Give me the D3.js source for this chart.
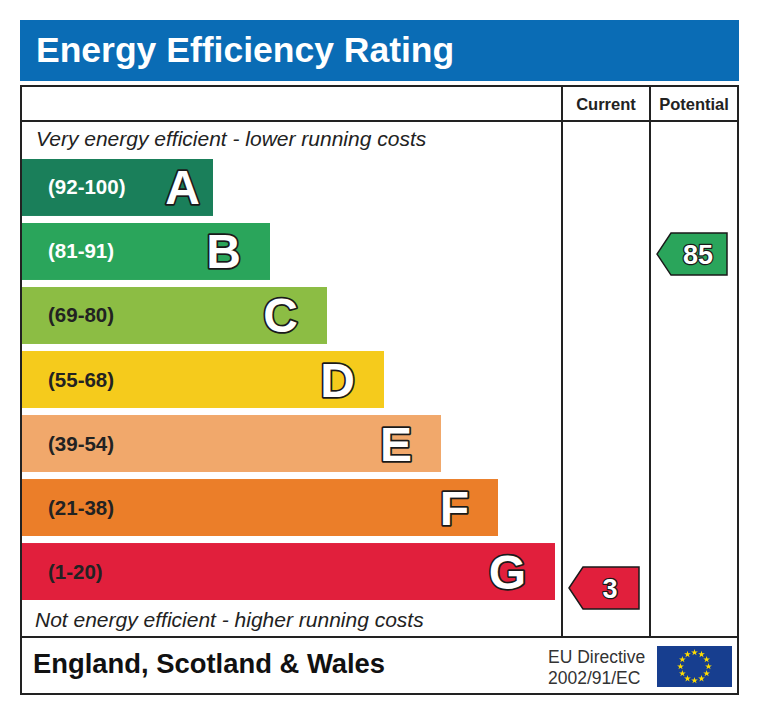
<!DOCTYPE html>
<html>
<head>
<meta charset="utf-8">
<script src="https://cdn.jsdelivr.net/npm/d3@7"></script>
<style>
  body { margin: 0; background: #fff; }
  svg { display: block; }
  text { font-family: "Liberation Sans", Arial, sans-serif; }
</style>
</head>
<body>
<svg id="chart"></svg>
<script>
// rating bands, top (best) to bottom (worst)
const bandLetters = ['A', 'B', 'C', 'D', 'E', 'F', 'G'];
const bandRanges = ['(92-100)', '(81-91)', '(69-80)', '(55-68)', '(39-54)', '(21-38)', '(1-20)'];
const bandMin = [92, 81, 69, 55, 39, 21, 1];
const bandMax = [100, 91, 80, 68, 54, 38, 20];
const bandColors = ['#1a7f5a', '#2aa55b', '#8cbd44', '#f5cb1c', '#f1a86b', '#eb7e29', '#e11f3c'];
const bandTextColors = ['#fff', '#fff', '#222', '#222', '#222', '#222', '#222'];

const columnLabels = ['Current', 'Potential'];
const ratings = [3, 85];

const title = 'Energy Efficiency Rating';
const topNote = 'Very energy efficient - lower running costs';
const bottomNote = 'Not energy efficient - higher running costs';
const footerRegion = 'England, Scotland & Wales';
const footerDirective = ['EU Directive', '2002/91/EC'];

const width = 760;
const height = 715;

const box = { left: 21, right: 738, top: 86, bottom: 694 };
const headerRowBottom = 121;
const footerTop = 637;
const colX = [562, 650, 738];

const svg = d3.select('#chart')
  .attr('width', width)
  .attr('height', height);

svg.append('rect')
  .attr('width', width)
  .attr('height', height)
  .attr('fill', '#fff');

// title banner
svg.append('rect')
  .attr('x', 20)
  .attr('y', 20)
  .attr('width', 719)
  .attr('height', 61)
  .attr('fill', '#0a6cb5');

svg.append('text')
  .attr('x', 36)
  .attr('y', 62)
  .attr('fill', '#fff')
  .attr('font-size', 35.5)
  .attr('font-weight', 'bold')
  .text(title);

// band scales
const y = d3.scaleBand()
  .domain(bandLetters)
  .range([159, 600])
  .paddingInner(0.11)
  .paddingOuter(0);

const barEnd = d3.scaleLinear()
  .domain([0, bandLetters.length - 1])
  .range([213, 555]);

const bands = bandLetters.map((letter, i) => ({
  letter,
  range: bandRanges[i],
  min: bandMin[i],
  max: bandMax[i],
  color: bandColors[i],
  textColor: bandTextColors[i],
  end: barEnd(i)
}));

const barsG = svg.append('g').attr('id', 'bars');

barsG.selectAll('rect')
  .data(bands)
  .join('rect')
  .attr('x', box.left + 1)
  .attr('y', d => y(d.letter))
  .attr('width', d => d.end - box.left - 1)
  .attr('height', y.bandwidth())
  .attr('fill', d => d.color);

barsG.selectAll('text.range')
  .data(bands)
  .join('text')
  .attr('class', 'range')
  .attr('x', 48)
  .attr('y', d => y(d.letter) + y.bandwidth() / 2 + 7)
  .attr('fill', d => d.textColor)
  .attr('font-size', 20.5)
  .attr('font-weight', 'bold')
  .text(d => d.range);

barsG.selectAll('text.letter')
  .data(bands)
  .join('text')
  .attr('class', 'letter')
  .attr('x', d => Math.max(d.end - 29, 200))
  .attr('y', d => y(d.letter) + y.bandwidth() / 2 + 17)
  .attr('text-anchor', 'end')
  .attr('fill', '#fff')
  .attr('stroke', '#1a1a1a')
  .attr('stroke-width', 3.5)
  .attr('paint-order', 'stroke')
  .attr('stroke-linejoin', 'round')
  .attr('font-size', 48)
  .attr('font-weight', 'bold')
  .text(d => d.letter);

// notes
svg.append('text')
  .attr('x', 36)
  .attr('y', 146)
  .attr('fill', '#222')
  .attr('font-size', 21)
  .attr('font-style', 'italic')
  .text(topNote);

svg.append('text')
  .attr('x', 35)
  .attr('y', 627)
  .attr('fill', '#222')
  .attr('font-size', 21)
  .attr('font-style', 'italic')
  .text(bottomNote);

// rating arrows
const arrowH = 42;
const arrowTip = 14;

const ratingY = v => {
  const b = bands.find(d => v >= d.min && v <= d.max);
  const top = y(b.letter);
  const s = d3.scaleLinear()
    .domain([b.max, b.min - 1])
    .range([top, top + y.bandwidth()]);
  return Math.min(s(v), top + y.bandwidth() - 12);
};

const arrows = ratings.map((v, i) => {
  const b = bands.find(d => v >= d.min && v <= d.max);
  return {
    value: v,
    color: b.color,
    left: colX[i] + 7,
    right: colX[i + 1] - 11,
    cy: ratingY(v)
  };
});

const line = d3.line();

const arrowG = svg.append('g').attr('id', 'arrows');

arrowG.selectAll('path')
  .data(arrows)
  .join('path')
  .attr('d', d => line([
    [d.left, d.cy],
    [d.left + arrowTip, d.cy - arrowH / 2],
    [d.right, d.cy - arrowH / 2],
    [d.right, d.cy + arrowH / 2],
    [d.left + arrowTip, d.cy + arrowH / 2]
  ]) + 'Z')
  .attr('fill', d => d.color)
  .attr('stroke', '#1a1a1a')
  .attr('stroke-width', 1.5);

arrowG.selectAll('text')
  .data(arrows)
  .join('text')
  .attr('x', d => (d.left + arrowTip + d.right) / 2 - 1)
  .attr('y', d => d.cy + 10)
  .attr('text-anchor', 'middle')
  .attr('fill', '#fff')
  .attr('stroke', '#1a1a1a')
  .attr('stroke-width', 2.5)
  .attr('paint-order', 'stroke')
  .attr('stroke-linejoin', 'round')
  .attr('font-size', 27)
  .attr('font-weight', 'bold')
  .text(d => d.value);

// frame and grid lines
const gridG = svg.append('g')
  .attr('fill', 'none')
  .attr('stroke', '#222')
  .attr('stroke-width', 2);

gridG.append('rect')
  .attr('x', box.left)
  .attr('y', box.top)
  .attr('width', box.right - box.left)
  .attr('height', box.bottom - box.top);

gridG.append('line')
  .attr('x1', box.left).attr('x2', box.right)
  .attr('y1', headerRowBottom).attr('y2', headerRowBottom);

gridG.append('line')
  .attr('x1', box.left).attr('x2', box.right)
  .attr('y1', footerTop).attr('y2', footerTop);

gridG.selectAll('line.col')
  .data(colX.slice(0, 2))
  .join('line')
  .attr('class', 'col')
  .attr('x1', d => d).attr('x2', d => d)
  .attr('y1', box.top).attr('y2', footerTop);

// column headers
svg.selectAll('text.colhead')
  .data(columnLabels)
  .join('text')
  .attr('class', 'colhead')
  .attr('x', (d, i) => (colX[i] + colX[i + 1]) / 2)
  .attr('y', 110)
  .attr('text-anchor', 'middle')
  .attr('fill', '#222')
  .attr('font-size', 16.5)
  .attr('font-weight', 'bold')
  .text(d => d);

// footer
svg.append('text')
  .attr('x', 33)
  .attr('y', 673)
  .attr('fill', '#111')
  .attr('font-size', 27.4)
  .attr('font-weight', 'bold')
  .text(footerRegion);

svg.selectAll('text.directive')
  .data(footerDirective)
  .join('text')
  .attr('class', 'directive')
  .attr('x', 548)
  .attr('y', (d, i) => 663 + i * 21)
  .attr('fill', '#333')
  .attr('font-size', 17.5)
  .text(d => d);

// EU flag
const flag = { x: 657, y: 646, w: 75, h: 41 };
svg.append('rect')
  .attr('x', flag.x)
  .attr('y', flag.y)
  .attr('width', flag.w)
  .attr('height', flag.h)
  .attr('fill', '#173e8f');

const star = d3.symbol().type(d3.symbolStar).size(14);
const angle = d3.scaleLinear().domain([0, 12]).range([0, 2 * Math.PI]);
svg.append('g')
  .selectAll('path')
  .data(d3.range(12))
  .join('path')
  .attr('d', star)
  .attr('transform', i => {
    const cx = flag.x + flag.w / 2 + 14 * Math.sin(angle(i));
    const cy = flag.y + flag.h / 2 - 14 * Math.cos(angle(i));
    return `translate(${cx},${cy})`;
  })
  .attr('fill', '#ffdd00');
</script>
</body>
</html>
